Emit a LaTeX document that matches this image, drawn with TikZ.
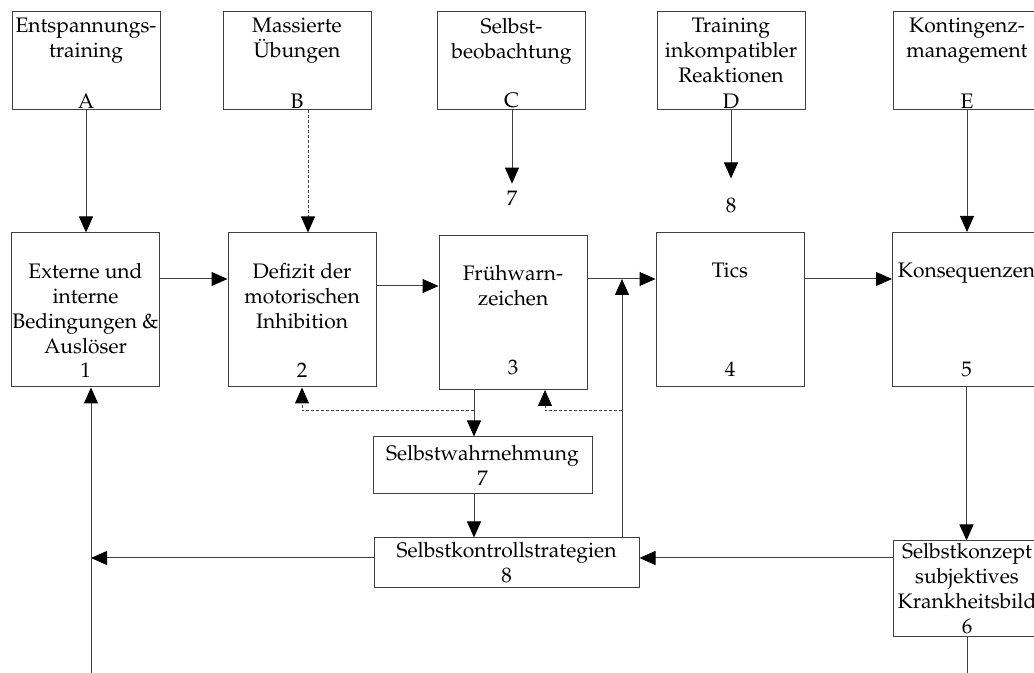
\documentclass[tikz,border=0pt]{standalone}
\usepackage[T1]{fontenc}
\usepackage{mathpazo}
\usetikzlibrary{arrows.meta,calc}

\begin{document}
\begin{tikzpicture}[x=0.5pt,y=-0.5pt,
  font=\fontsize{10.5}{12.5}\selectfont,
  >={Triangle[length=8pt,width=7pt,color=black]},
  line/.style={draw=black!75,line width=0.5pt},
  arr/.style={line,->},
  dasharr/.style={arr,dash pattern=on 1.5pt off 1pt},
  box/.style={line,inner sep=0pt,minimum width=74pt},
  topbox/.style={box,minimum height=49pt},
  midbox/.style={box,minimum height=77pt},
  lowbox/.style={box,align=center,inner sep=1pt},
  head/.style={anchor=north,align=center,inner sep=3.2pt},
  midhead/.style={anchor=north,align=center,inner sep=15.2pt},
  letter/.style={anchor=south,inner sep=1pt},
  num/.style={anchor=south,inner sep=5pt}]

  \useasboundingbox (0,0) rectangle (1034,673);
  \clip (0,0) rectangle (1034,673);

  \node[topbox,label={[head]north:Entspannungs-\\training},label={[letter]south:A}] (tA) at (86,61) {};
  \node[topbox,label={[head]north:Massierte\\\"Ubungen},label={[letter]south:B}] (tB) at (297,61) {};
  \node[topbox,label={[head]north:Selbst-\\beobachtung},label={[letter]south:C}] (tC) at (511.5,61) {};
  \node[topbox,label={[head]north:Training\\inkompatibler\\Reaktionen},label={[letter]south:D}] (tD) at (731,61) {};
  \node[topbox,label={[head]north:Kontingenz-\\management},label={[letter]south:E}] (tE) at (967,61) {};

  \node (c7) at (512,198) {7};
  \node (d8) at (731,205) {8};

  \node[midbox,label={[midhead]north:Externe und\\interne\\Bedingungen \&\\Ausl\"oser},label={[num]south:1}] (b1) at (85.5,310) {};
  \node[midbox,label={[midhead]north:Defizit der\\motorischen\\Inhibition},label={[num]south:2}] (b2) at (302,310) {};
  \node[midbox,label={[midhead]north:Fr\"uhwarn-\\zeichen},label={[num,inner sep=7.5pt]south:3}] (b3) at (513,312.5) {};
  \node[midbox,label={[midhead]north:Tics},label={[num]south:4}] (b4) at (730,309.5) {};
  \node[midbox,label={[midhead]north:Konsequenzen},label={[num]south:5}] (b5) at (966.5,309.5) {};

  \node[lowbox,minimum width=109.5pt,minimum height=28.5pt] (b7) at (482.5,465.5) {Selbstwahrnehmung\\7};
  \node[lowbox,minimum width=132.5pt,minimum height=25pt] (b8) at (506.5,563) {Selbstkontrollstrategien\\8};
  \node[lowbox,minimum width=74pt,minimum height=47.5pt] (b6) at (967,588.5) {Selbstkonzept\\subjektives\\Krankheitsbild\\6};

  \coordinate (j34) at (622,279);
  \coordinate (s3) at (474,411);
  \coordinate (y8) at (0,558);
  \coordinate (back) at (91,690);

  \draw[arr] (tA.south) -- (tA.south |- b1.north);
  \draw[dasharr] ([xshift=3pt]b2.north |- tB.south) -- ([xshift=3pt]b2.north);
  \draw[arr] (tC.south -| c7) -- (c7.north);
  \draw[arr] (tD.south -| d8) -- ([yshift=6pt]d8.north);
  \draw[arr] (tE.south) -- (tE.south |- b5.north);

  \draw[arr] (b1.east |- j34) -- (b2.west |- j34);
  \draw[arr] ([yshift=12pt]b2.east) -- ([yshift=12pt]b2.east -| b3.west);
  \draw[arr] (b3.east |- j34) -- (b4.west |- j34);
  \draw[arr] (b4.east |- j34) -- (b5.west |- j34);

  \draw[arr] (b3.south -| s3) -- (b7.north -| s3);
  \draw[dasharr] (s3) -| (b2.south);
  \draw[dasharr] (s3 -| j34) -| ([xshift=16pt]b3.south);
  \draw[arr] (b8.north -| j34) -- (j34);
  \draw[arr] (b7.south -| s3) -- (b8.north -| s3);

  \draw[arr] (b5.south) -- (b5.south |- b6.north);
  \draw[arr] (b6.west |- y8) -- (b8.east |- y8);
  \draw[arr] (b8.west |- y8) -- (back |- y8);
  \draw[arr] (back) -- (back |- b1.south);
  \draw[line] (b6.south) -- (b6.south |- back);
\end{tikzpicture}
\end{document}
